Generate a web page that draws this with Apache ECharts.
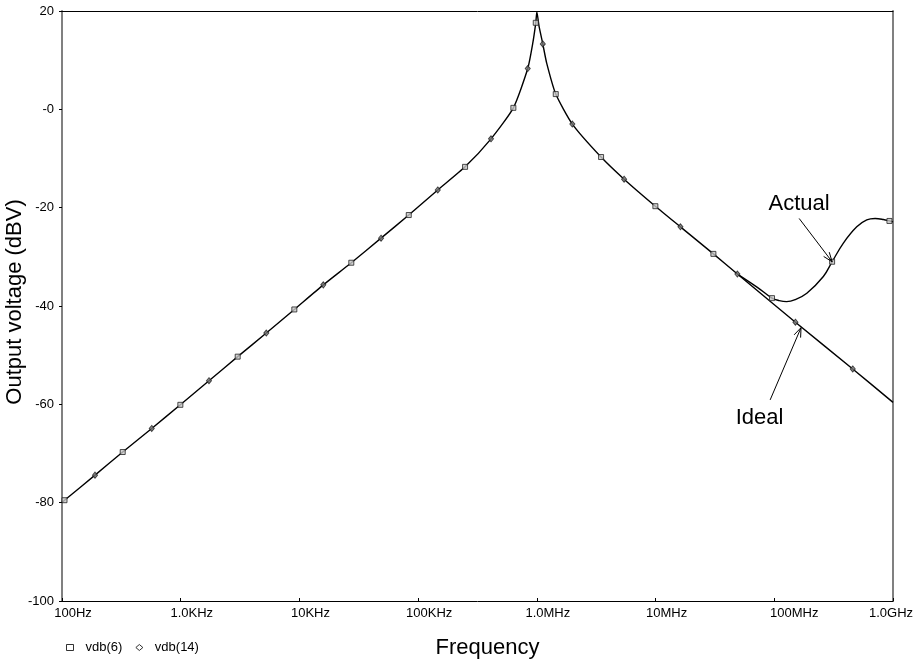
<!DOCTYPE html>
<html>
<head>
<meta charset="utf-8">
<script src="https://cdn.jsdelivr.net/npm/echarts@6/dist/echarts.min.js"></script>
<style>
  html, body { margin: 0; padding: 0; background: #ffffff; }
  #chart { width: 922px; height: 662px; }
</style>
</head>
<body>
<div id="chart"></div>
<script>
// Axis tick labels
const xTickLabels = ['100Hz', '1.0KHz', '10KHz', '100KHz', '1.0MHz', '10MHz', '100MHz', '1.0GHz'];
const yTickLabels = ['-100', '-80', '-60', '-40', '-20', '-0', '20'];

// Response common to both circuits (Hz, dBV) up to ~50 MHz
const sharedFreq = [100, 105, 189.7, 324.6, 570, 993, 1730, 3020, 5260, 9060, 15890, 27350, 48700,
  83370, 146300, 248500, 411000, 634000, 838000, 923000, 979000, 1000000, 1045000, 1122000,
  1210000, 1443000, 1990000, 3475000, 5430000, 9960000, 16200000, 30700000, 48900000];
const sharedDb = [-79.9, -79.5, -74.4, -69.7, -64.9, -60.1, -55.2, -50.3, -45.5, -40.7, -35.7, -31.2, -26.2,
  -21.5, -16.4, -11.7, -6.0, 0.3, 8.3, 13.4, 17.6, 19.8, 16.8, 13.3,
  9.4, 3.1, -3.0, -9.7, -14.2, -19.7, -23.9, -29.4, -33.5];

// vdb(6): actual circuit above 50 MHz
const actualTailFreq = [72000000, 95700000, 110000000, 127000000, 150000000, 188000000, 259000000,
  307000000, 382000000, 495000000, 601000000, 707000000, 830000000, 933000000, 1000000000];
const actualTailDb = [-36.2, -38.4, -38.9, -39.1, -38.7, -37.4, -34.0,
  -31.0, -27.2, -23.9, -22.5, -22.2, -22.4, -22.7, -22.9];

// vdb(14): ideal circuit above 50 MHz
const idealTailFreq = [150700000, 458000000, 1000000000];
const idealTailDb = [-43.3, -52.8, -59.6];

// Marker samples of each trace
const actualMarkFreq = [105, 324.6, 993, 3020, 9060, 27350, 83370, 248500, 634000, 979000,
  1443000, 3475000, 9960000, 30700000, 95700000, 307000000, 933000000];
const actualMarkDb = [-79.5, -69.7, -60.1, -50.3, -40.7, -31.2, -21.5, -11.7, 0.3, 17.6,
  3.1, -9.7, -19.7, -29.4, -38.4, -31.0, -22.7];
const idealMarkFreq = [189.7, 570, 1730, 5260, 15890, 48700, 146300, 411000, 838000, 1122000,
  1990000, 5430000, 16200000, 48900000, 150700000, 458000000];
const idealMarkDb = [-74.4, -64.9, -55.2, -45.5, -35.7, -26.2, -16.4, -6.0, 8.3, 13.3,
  -3.0, -14.2, -23.9, -33.5, -43.3, -52.8];

const FONT = '"Liberation Sans", Arial, Helvetica, sans-serif';

// horizontal offset of each frequency label's centre from its tick (px)
const xLabelShift = [11, 11, 11, 11, 11, 11, 20, -2];

const pairs = (xs, ys) => xs.map((x, i) => [x, ys[i]]);

const sharedLine = pairs(sharedFreq, sharedDb);
const joint = sharedLine[sharedLine.length - 1];
const actualTail = [joint].concat(pairs(actualTailFreq, actualTailDb));
const idealTail = [joint].concat(pairs(idealTailFreq, idealTailDb));

const rich = {};
xTickLabels.forEach((t, i) => {
  const s = xLabelShift[i];
  rich['s' + i] = {
    fontSize: 13, fontFamily: FONT, color: '#000',
    padding: s >= 0 ? [0, 0, 0, 2 * s] : [0, -2 * s, 0, 0]
  };
});

const chart = echarts.init(document.getElementById('chart'), null, { renderer: 'canvas' });

const traceStyle = { color: '#000', width: 1.4 };

const option = {
  backgroundColor: '#ffffff',
  animation: false,
  grid: { left: 62, right: 29, top: 11, bottom: 61, containLabel: false, outerBoundsMode: 'none' },
  legend: {
    left: 61, top: 636,
    itemWidth: 7, itemHeight: 6, itemGap: 13,
    data: [{ name: 'vdb(6)', icon: 'rect' }, { name: 'vdb(14)', icon: 'diamond' }],
    itemStyle: { color: '#ffffff', borderColor: '#000000', borderWidth: 1 },
    textStyle: { fontSize: 13, fontFamily: FONT, color: '#000', padding: [0, 0, 0, 7] }
  },
  xAxis: [{
    type: 'log', logBase: 10, min: 100, max: 1e9, splitNumber: 7,
    position: 'bottom',
    name: 'Frequency', nameLocation: 'middle', nameGap: 36, nameMoveOverlap: false,
    nameTextStyle: { fontSize: 22, fontFamily: FONT, color: '#000', padding: [0, 0, 0, 20] },
    axisLine: { show: true, onZero: false, lineStyle: { color: '#000', width: 1 } },
    axisTick: { show: true, inside: true, length: 3, lineStyle: { color: '#000' } },
    minorTick: { show: false },
    splitLine: { show: false },
    axisLabel: {
      show: true, interval: 0, margin: 6, hideOverlap: false, showMinLabel: true, showMaxLabel: true,
      fontSize: 13, fontFamily: FONT, color: '#000',
      formatter: (v) => {
        const i = Math.round(Math.log10(v)) - 2;
        return '{s' + i + '|' + xTickLabels[i] + '}';
      },
      rich: rich
    }
  }, {
    type: 'log', logBase: 10, min: 100, max: 1e9, position: 'top',
    axisLine: { show: true, onZero: false, lineStyle: { color: '#000', width: 1 } },
    axisTick: { show: false }, axisLabel: { show: false }, splitLine: { show: false }
  }],
  yAxis: [{
    type: 'value', min: -100, max: 20, interval: 20, position: 'left',
    name: 'Output voltage (dBV)', nameLocation: 'middle', nameGap: 36, nameMoveOverlap: false,
    nameTextStyle: { fontSize: 22, fontFamily: FONT, color: '#000', padding: [0, 0, 0, 8] },
    axisLine: { show: true, onZero: false, lineStyle: { color: '#808080', width: 2 } },
    axisTick: { show: true, inside: false, length: 3, lineStyle: { color: '#000' } },
    splitLine: { show: false },
    axisLabel: {
      margin: 8, fontSize: 13, fontFamily: FONT, color: '#000',
      formatter: (v) => yTickLabels[Math.round((v + 100) / 20)]
    }
  }, {
    type: 'value', min: -100, max: 20, interval: 20, position: 'right',
    axisLine: { show: true, onZero: false, lineStyle: { color: '#808080', width: 2 } },
    axisTick: { show: false }, axisLabel: { show: false }, splitLine: { show: false }
  }],
  series: [{
    name: 'Common trace', type: 'line', data: sharedLine, showSymbol: false,
    smooth: 0.2, lineStyle: traceStyle, z: 2, silent: true
  }, {
    name: 'Actual tail', type: 'line', data: actualTail, showSymbol: false,
    smooth: 0.4, lineStyle: traceStyle, z: 2, silent: true
  }, {
    name: 'Ideal tail', type: 'line', data: idealTail, showSymbol: false,
    smooth: 0.2, lineStyle: traceStyle, z: 2, silent: true
  }, {
    name: 'vdb(6)', type: 'scatter', data: pairs(actualMarkFreq, actualMarkDb),
    symbol: 'rect', symbolSize: 5,
    itemStyle: { color: '#c8c8c8', borderColor: '#222', borderWidth: 1 }, z: 4
  }, {
    name: 'vdb(14)', type: 'scatter', data: pairs(idealMarkFreq, idealMarkDb),
    symbol: 'diamond', symbolSize: [5, 6],
    itemStyle: { color: '#777', borderColor: '#222', borderWidth: 1 }, z: 4
  }]
};

chart.setOption(option);

// Callout labels with open arrowheads, anchored in data coordinates
const callouts = [
  { text: 'Actual', textAt: [162e6, -19.2], from: [162e6, -22.2], to: [307e6, -31.0] },
  { text: 'Ideal', textAt: [75.2e6, -62.8], from: [92.3e6, -59.1], to: [168e6, -44.4] }
];

const graphics = [];
callouts.forEach((c) => {
  const p0 = chart.convertToPixel({ gridIndex: 0 }, c.from);
  const p1 = chart.convertToPixel({ gridIndex: 0 }, c.to);
  const pt = chart.convertToPixel({ gridIndex: 0 }, c.textAt);
  const ang = Math.atan2(p1[1] - p0[1], p1[0] - p0[0]);
  const head = 10, spread = 0.36;
  const b1 = [p1[0] - head * Math.cos(ang - spread), p1[1] - head * Math.sin(ang - spread)];
  const b2 = [p1[0] - head * Math.cos(ang + spread), p1[1] - head * Math.sin(ang + spread)];
  const stroke = { stroke: '#000', lineWidth: 1, fill: null };
  graphics.push({ type: 'line', shape: { x1: p0[0], y1: p0[1], x2: p1[0], y2: p1[1] }, style: stroke, z: 10 });
  graphics.push({ type: 'polyline', shape: { points: [b1, p1, b2] }, style: stroke, z: 10 });
  graphics.push({
    type: 'text', x: pt[0], y: pt[1], z: 10,
    style: { text: c.text, fontSize: 22, fontFamily: FONT, fill: '#000', align: 'center', verticalAlign: 'middle' }
  });
});
chart.setOption({ graphic: graphics });
</script>
</body>
</html>
